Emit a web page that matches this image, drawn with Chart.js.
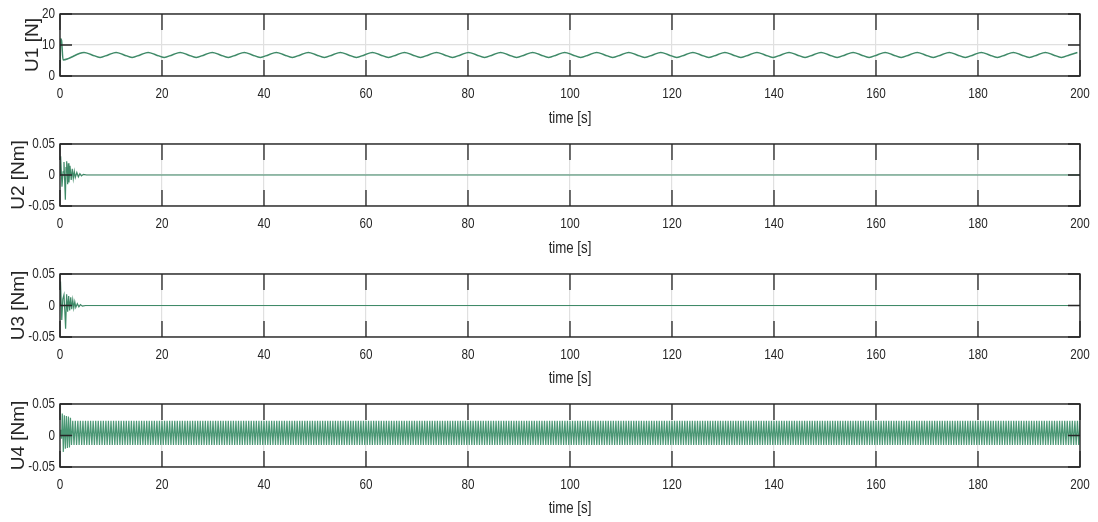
<!DOCTYPE html>
<html><head><meta charset="utf-8">
<script src="https://cdn.jsdelivr.net/npm/chart.js@4.4.1/dist/chart.umd.min.js"></script>
<style>
html,body{margin:0;padding:0;background:#fff;overflow:hidden}
#wrap{position:relative;width:1098px;height:522px;background:#fff}
#wrap canvas{position:absolute;left:0}
</style></head><body><div id="wrap"></div>
<script>
// ---------- data ----------
const X_TICKS = [0,20,40,60,80,100,120,140,160,180,200];
const X_TITLE = 'time [s]';
const Y_TITLES = ['U1 [N]','U2 [Nm]','U3 [Nm]','U4 [Nm]'];
const U1_YTICKS = [0,10,20];
const U1_YLABELS = ['0','10','20'];
const U_YTICKS = [-0.05,0,0.05];
const U_YLABELS = ['-0.05','0','0.05'];

// U1: start transient (explicit time/value), then steady oscillation sampled every DT
const U1_T = [0,0.12,0.3,0.6,1.6,2.7,3.7,4.71];
const U1_V = [2.5,12,11.5,5.2,5.6,6.45,7.2,7.6];
const U1_T0 = 6.2832, U1_DT = 1.5708;
const U1_STEADY = [
6.8,6,6.8,7.6, 6.8,6,6.8,7.6, 6.8,6,6.8,7.6, 6.8,6,6.8,7.6, 6.8,6,6.8,7.6,
6.8,6,6.8,7.6, 6.8,6,6.8,7.6, 6.8,6,6.8,7.6, 6.8,6,6.8,7.6, 6.8,6,6.8,7.6,
6.8,6,6.8,7.6, 6.8,6,6.8,7.6, 6.8,6,6.8,7.6, 6.8,6,6.8,7.6, 6.8,6,6.8,7.6,
6.8,6,6.8,7.6, 6.8,6,6.8,7.6, 6.8,6,6.8,7.6, 6.8,6,6.8,7.6, 6.8,6,6.8,7.6,
6.8,6,6.8,7.6, 6.8,6,6.8,7.6, 6.8,6,6.8,7.6, 6.8,6,6.8,7.6, 6.8,6,6.8,7.6,
6.8,6,6.8,7.6, 6.8,6,6.8,7.6, 6.8,6,6.8,7.6, 6.8,6,6.8,7.6, 6.8,6,6.8,7.6,
6.8,6,6.8,7.6
];

// U2, U3: decaying transient then zero
const U2_T = [0,0.13,0.39,0.6,0.78,0.92,1.05,1.18,1.31,1.5,1.63,1.76,1.96,2.2,2.4,2.6,2.8,3.0,3.3,3.6,3.9,4.2,4.6,5.2,200];
const U2_V = [0,0.03,-0.019,0.005,0.021,-0.01,-0.04,0.012,0.022,-0.015,0.019,-0.012,0.015,-0.008,0.01,-0.006,0.006,-0.004,0.004,-0.003,0.002,-0.0015,0.001,0,0];
const U3_T = [0,0.1,0.35,0.55,0.78,0.95,1.1,1.3,1.5,1.7,1.9,2.1,2.3,2.5,2.7,2.9,3.1,3.4,3.7,4.0,4.4,5.0,200];
const U3_V = [0,0.038,-0.023,0.01,0.017,-0.01,-0.037,0.018,-0.01,0.015,-0.008,0.013,-0.006,0.009,-0.004,0.006,-0.003,0.003,-0.002,0.0015,-0.001,0,0];

// U4: transient then sustained oscillation, extremes every DT
const U4_T = [0,0.15,0.3,0.45,0.65,0.85,1.05,1.25,1.45,1.65,1.85,2.05];
const U4_V = [0,0.009,-0.005,0.035,-0.026,0.032,-0.021,0.031,-0.02,0.03,-0.019,0.028];
const U4_T0 = 2.25, U4_DT = 0.25;
const U4_STEADY = [
-.015,.0235,-.015,.0235,-.015,.0235,-.015,.0235,-.015,.0235,-.015,.0235,-.015,.0235,-.015,.0235,-.015,.0235,-.015,.0235,
-.015,.0235,-.015,.0235,-.015,.0235,-.015,.0235,-.015,.0235,-.015,.0235,-.015,.0235,-.015,.0235,-.015,.0235,-.015,.0235,
-.015,.0235,-.015,.0235,-.015,.0235,-.015,.0235,-.015,.0235,-.015,.0235,-.015,.0235,-.015,.0235,-.015,.0235,-.015,.0235,
-.015,.0235,-.015,.0235,-.015,.0235,-.015,.0235,-.015,.0235,-.015,.0235,-.015,.0235,-.015,.0235,-.015,.0235,-.015,.0235,
-.015,.0235,-.015,.0235,-.015,.0235,-.015,.0235,-.015,.0235,-.015,.0235,-.015,.0235,-.015,.0235,-.015,.0235,-.015,.0235,
-.015,.0235,-.015,.0235,-.015,.0235,-.015,.0235,-.015,.0235,-.015,.0235,-.015,.0235,-.015,.0235,-.015,.0235,-.015,.0235,
-.015,.0235,-.015,.0235,-.015,.0235,-.015,.0235,-.015,.0235,-.015,.0235,-.015,.0235,-.015,.0235,-.015,.0235,-.015,.0235,
-.015,.0235,-.015,.0235,-.015,.0235,-.015,.0235,-.015,.0235,-.015,.0235,-.015,.0235,-.015,.0235,-.015,.0235,-.015,.0235,
-.015,.0235,-.015,.0235,-.015,.0235,-.015,.0235,-.015,.0235,-.015,.0235,-.015,.0235,-.015,.0235,-.015,.0235,-.015,.0235,
-.015,.0235,-.015,.0235,-.015,.0235,-.015,.0235,-.015,.0235,-.015,.0235,-.015,.0235,-.015,.0235,-.015,.0235,-.015,.0235,
-.015,.0235,-.015,.0235,-.015,.0235,-.015,.0235,-.015,.0235,-.015,.0235,-.015,.0235,-.015,.0235,-.015,.0235,-.015,.0235,
-.015,.0235,-.015,.0235,-.015,.0235,-.015,.0235,-.015,.0235,-.015,.0235,-.015,.0235,-.015,.0235,-.015,.0235,-.015,.0235,
-.015,.0235,-.015,.0235,-.015,.0235,-.015,.0235,-.015,.0235,-.015,.0235,-.015,.0235,-.015,.0235,-.015,.0235,-.015,.0235,
-.015,.0235,-.015,.0235,-.015,.0235,-.015,.0235,-.015,.0235,-.015,.0235,-.015,.0235,-.015,.0235,-.015,.0235,-.015,.0235,
-.015,.0235,-.015,.0235,-.015,.0235,-.015,.0235,-.015,.0235,-.015,.0235,-.015,.0235,-.015,.0235,-.015,.0235,-.015,.0235,
-.015,.0235,-.015,.0235,-.015,.0235,-.015,.0235,-.015,.0235,-.015,.0235,-.015,.0235,-.015,.0235,-.015,.0235,-.015,.0235,
-.015,.0235,-.015,.0235,-.015,.0235,-.015,.0235,-.015,.0235,-.015,.0235,-.015,.0235,-.015,.0235,-.015,.0235,-.015,.0235,
-.015,.0235,-.015,.0235,-.015,.0235,-.015,.0235,-.015,.0235,-.015,.0235,-.015,.0235,-.015,.0235,-.015,.0235,-.015,.0235,
-.015,.0235,-.015,.0235,-.015,.0235,-.015,.0235,-.015,.0235,-.015,.0235,-.015,.0235,-.015,.0235,-.015,.0235,-.015,.0235,
-.015,.0235,-.015,.0235,-.015,.0235,-.015,.0235,-.015,.0235,-.015,.0235,-.015,.0235,-.015,.0235,-.015,.0235,-.015,.0235,
-.015,.0235,-.015,.0235,-.015,.0235,-.015,.0235,-.015,.0235,-.015,.0235,-.015,.0235,-.015,.0235,-.015,.0235,-.015,.0235,
-.015,.0235,-.015,.0235,-.015,.0235,-.015,.0235,-.015,.0235,-.015,.0235,-.015,.0235,-.015,.0235,-.015,.0235,-.015,.0235,
-.015,.0235,-.015,.0235,-.015,.0235,-.015,.0235,-.015,.0235,-.015,.0235,-.015,.0235,-.015,.0235,-.015,.0235,-.015,.0235,
-.015,.0235,-.015,.0235,-.015,.0235,-.015,.0235,-.015,.0235,-.015,.0235,-.015,.0235,-.015,.0235,-.015,.0235,-.015,.0235,
-.015,.0235,-.015,.0235,-.015,.0235,-.015,.0235,-.015,.0235,-.015,.0235,-.015,.0235,-.015,.0235,-.015,.0235,-.015,.0235,
-.015,.0235,-.015,.0235,-.015,.0235,-.015,.0235,-.015,.0235,-.015,.0235,-.015,.0235,-.015,.0235,-.015,.0235,-.015,.0235,
-.015,.0235,-.015,.0235,-.015,.0235,-.015,.0235,-.015,.0235,-.015,.0235,-.015,.0235,-.015,.0235,-.015,.0235,-.015,.0235,
-.015,.0235,-.015,.0235,-.015,.0235,-.015,.0235,-.015,.0235,-.015,.0235,-.015,.0235,-.015,.0235,-.015,.0235,-.015,.0235,
-.015,.0235,-.015,.0235,-.015,.0235,-.015,.0235,-.015,.0235,-.015,.0235,-.015,.0235,-.015,.0235,-.015,.0235,-.015,.0235,
-.015,.0235,-.015,.0235,-.015,.0235,-.015,.0235,-.015,.0235,-.015,.0235,-.015,.0235,-.015,.0235,-.015,.0235,-.015,.0235,
-.015,.0235,-.015,.0235,-.015,.0235,-.015,.0235,-.015,.0235,-.015,.0235,-.015,.0235,-.015,.0235,-.015,.0235,-.015,.0235,
-.015,.0235,-.015,.0235,-.015,.0235,-.015,.0235,-.015,.0235,-.015,.0235,-.015,.0235,-.015,.0235,-.015,.0235,-.015,.0235,
-.015,.0235,-.015,.0235,-.015,.0235,-.015,.0235,-.015,.0235,-.015,.0235,-.015,.0235,-.015,.0235,-.015,.0235,-.015,.0235,
-.015,.0235,-.015,.0235,-.015,.0235,-.015,.0235,-.015,.0235,-.015,.0235,-.015,.0235,-.015,.0235,-.015,.0235,-.015,.0235,
-.015,.0235,-.015,.0235,-.015,.0235,-.015,.0235,-.015,.0235,-.015,.0235,-.015,.0235,-.015,.0235,-.015,.0235,-.015,.0235,
-.015,.0235,-.015,.0235,-.015,.0235,-.015,.0235,-.015,.0235,-.015,.0235,-.015,.0235,-.015,.0235,-.015,.0235,-.015,.0235,
-.015,.0235,-.015,.0235,-.015,.0235,-.015,.0235,-.015,.0235,-.015,.0235,-.015,.0235,-.015,.0235,-.015,.0235,-.015,.0235,
-.015,.0235,-.015,.0235,-.015,.0235,-.015,.0235,-.015,.0235,-.015,.0235,-.015,.0235,-.015,.0235,-.015,.0235,-.015,.0235,
-.015,.0235,-.015,.0235,-.015,.0235,-.015,.0235,-.015,.0235,-.015,.0235,-.015,.0235,-.015,.0235,-.015,.0235,-.015,.0235,
-.015,.0235,-.015,.0235,-.015,.0235,-.015,.0235,-.015,.0235,-.015,.0235
];

// ---------- build ----------
function pairs(ts, vs){ return ts.map((t,i)=>({x:t, y:vs[i]})); }
function steady(t0, dt, vs){ return vs.map((v,i)=>({x:t0+i*dt, y:v})); }

const SERIES = [
  pairs(U1_T,U1_V).concat(steady(U1_T0,U1_DT,U1_STEADY)),
  pairs(U2_T,U2_V),
  pairs(U3_T,U3_V),
  pairs(U4_T,U4_V).concat(steady(U4_T0,U4_DT,U4_STEADY))
];
const Y_TICKS = [U1_YTICKS, U_YTICKS, U_YTICKS, U_YTICKS];
const Y_LABELS = [U1_YLABELS, U_YLABELS, U_YLABELS, U_YLABELS];

// layout (pixels) and styles
const PANEL_TOP = [4,134,264,394];
const AREA_H = [62,62,63,63];
const YTITLE_PAD = [21,7.5,7.5,7.5];
const CANVAS_H = 126;
const LINE_COLORS = ['#3f8a68','#3f8a68','#3f8a68','#4a9774'];
const INK = '#262626';
const FONT = "'Liberation Sans',Arial,sans-serif";
const NARROW_FACTOR = 0.78;   // horizontal compression of upright text (Helvetica-narrow look)

const innerAxes = {
  id:'innerAxes',
  beforeDraw(chart){
    const ctx = chart.ctx;
    if (ctx.__narrow) return;
    ctx.__narrow = true;
    const orig = ctx.fillText.bind(ctx);
    ctx.fillText = function(t, x, y, mw){
      const m = ctx.getTransform();
      if (Math.abs(m.b) < 1e-6 && Math.abs(m.c) < 1e-6) {
        const w = ctx.measureText(t).width * NARROW_FACTOR;
        return orig(t, x, y, mw !== undefined ? Math.min(mw, w) : w);
      }
      return mw !== undefined ? orig(t, x, y, mw) : orig(t, x, y);
    };
  },
  afterDatasetsDraw(chart, args, o){
    const {ctx, chartArea:a, scales:{x,y}} = chart;
    ctx.save();
    ctx.strokeStyle = INK; ctx.lineWidth = 1.3;
    ctx.beginPath();
    x.ticks.forEach(t=>{
      const p = x.getPixelForValue(t.value);
      ctx.moveTo(p,a.top); ctx.lineTo(p,a.top+o.xLen);
      ctx.moveTo(p,a.bottom); ctx.lineTo(p,a.bottom-o.xLen);
    });
    y.ticks.forEach(t=>{
      const p = y.getPixelForValue(t.value);
      ctx.moveTo(a.left,p); ctx.lineTo(a.left+o.yLen,p);
      ctx.moveTo(a.right,p); ctx.lineTo(a.right-o.yLen,p);
    });
    ctx.stroke();
    ctx.lineWidth = 1.4;
    ctx.strokeRect(a.left, a.top, a.right-a.left, a.bottom-a.top);
    ctx.restore();
  }
};

const wrap = document.getElementById('wrap');
SERIES.forEach((data, i)=>{
  const cv = document.createElement('canvas');
  cv.width = 1098; cv.height = CANVAS_H;
  cv.style.top = PANEL_TOP[i]+'px';
  cv.style.width = '1098px'; cv.style.height = CANVAS_H+'px';
  wrap.appendChild(cv);
  const yt = Y_TICKS[i], yl = Y_LABELS[i];
  new Chart(cv, {
    type:'line',
    data:{datasets:[{
      data, borderColor:LINE_COLORS[i], borderWidth: i===0?1.5:1.2,
      pointRadius:0, fill:false, tension:0,
      cubicInterpolationMode: i===0?'monotone':'default'
    }]},
    options:{
      responsive:false, animation:false, devicePixelRatio:1,
      layout:{padding:{top:10,left:0,right:18,bottom:0}},
      plugins:{legend:{display:false}, tooltip:{enabled:false}, innerAxes:{xLen:16,yLen:12}},
      scales:{
        x:{type:'linear', min:0, max:200,
          afterBuildTicks(s){ s.ticks = X_TICKS.map(v=>({value:v})); },
          afterFit(s){ s.height = CANVAS_H-10-AREA_H[i]; s.paddingLeft = 0; s.paddingRight = 0; },
          grid:{color:'#e0e0e0', lineWidth:1.2, drawTicks:false},
          border:{display:false},
          ticks:{padding:9, color:INK, font:{family:FONT,size:15}, maxRotation:0, autoSkip:false,
            callback:(v)=>String(v)},
          title:{display:true, text:X_TITLE, color:INK, font:{family:FONT,size:17}, padding:{top:0,bottom:1}}
        },
        y:{type:'linear', min:yt[0], max:yt[yt.length-1],
          afterBuildTicks(s){ s.ticks = yt.map(v=>({value:v})); },
          afterFit(s){ s.width = 60; s.paddingTop = 0; s.paddingBottom = 0; },
          grid:{color:'#e0e0e0', lineWidth:1.2, drawTicks:false},
          border:{display:false},
          ticks:{padding:5, color:INK, font:{family:FONT,size:15}, autoSkip:false,
            callback:(v,idx)=>yl[idx]},
          title:{display:true, text:Y_TITLES[i], color:INK, font:{family:FONT,size:19}, padding:{top:YTITLE_PAD[i],bottom:0}}
        }
      }
    },
    plugins:[innerAxes]
  });
});
</script></body></html>
